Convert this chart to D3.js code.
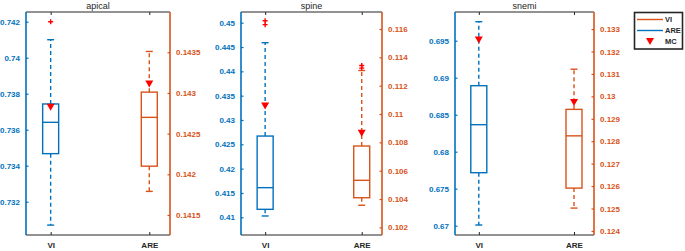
<!DOCTYPE html>
<html><head><meta charset="utf-8">
<script src="https://cdn.jsdelivr.net/npm/d3@7"></script>
<style>
body{margin:0;background:#fff;}
svg{display:block;font-family:"Liberation Sans",Arial,sans-serif;}
</style></head>
<body>
<svg id="c" width="685" height="251"></svg>
<script>
// ---------------- data ----------------
const categories = ["VI", "ARE"];
const panelTitles = ["apical", "spine", "snemi"];
// box stats: [lower whisker, Q1, median, Q3, upper whisker]
const apicalVI  = [0.7307, 0.73467, 0.73641, 0.73743, 0.7410];
const apicalARE = [0.14179, 0.14210, 0.14270, 0.14301, 0.14351];
const spineVI   = [0.41027, 0.41164, 0.41609, 0.42670, 0.44589];
const spineARE  = [0.10356, 0.10409, 0.10532, 0.10774, 0.11307];
const snemiVI   = [0.67009, 0.67716, 0.68365, 0.68892, 0.69757];
const snemiARE  = [0.12502, 0.12591, 0.12824, 0.12942, 0.13121];
// outliers
const apicalVIOut = [0.7420];
const apicalAREOut = [];
const spineVIOut = [0.4504, 0.4496];
const spineAREOut = [0.11342, 0.11324];
const snemiVIOut = [];
const snemiAREOut = [];
// MC markers [VI, ARE]
const apicalMC = [0.73725, 0.14311];
const spineMC  = [0.43288, 0.10864];
const snemiMC  = [0.6951, 0.12973];
// ticks
const apicalLeftTicks  = [0.732, 0.734, 0.736, 0.738, 0.74, 0.742];
const apicalRightTicks = [0.1415, 0.142, 0.1425, 0.143, 0.1435];
const spineLeftTicks   = [0.41, 0.415, 0.42, 0.425, 0.43, 0.435, 0.44, 0.445, 0.45];
const spineRightTicks  = [0.102, 0.104, 0.106, 0.108, 0.11, 0.112, 0.114, 0.116];
const snemiLeftTicks   = [0.67, 0.675, 0.68, 0.685, 0.69, 0.695];
const snemiRightTicks  = [0.124, 0.125, 0.126, 0.127, 0.128, 0.129, 0.13, 0.131, 0.132, 0.133];
// axis limits
const apicalLeftLim  = [0.73015, 0.74254];
const apicalRightLim = [0.141254, 0.143995];
const spineLeftLim   = [0.40636, 0.4522];
const spineRightLim  = [0.10146, 0.1172];
const snemiLeftLim   = [0.66874, 0.69888];
const snemiRightLim  = [0.12382, 0.13376];
const legendLabels = ["VI", "ARE", "MC"];

// ---------------- layout ----------------
const BLUE = "#0072BD", ORANGE = "#D95319", RED = "#FF0000", DARK = "#262626";
const plotTop = 12, plotBottom = 235;
const panels = [
  {title: panelTitles[0], x0: 26,  x1: 170, boxes: [apicalVI, apicalARE], outs: [apicalVIOut, apicalAREOut], mc: apicalMC,
   lt: apicalLeftTicks, rt: apicalRightTicks, ll: apicalLeftLim, rl: apicalRightLim},
  {title: panelTitles[1], x0: 241, x1: 382, boxes: [spineVI, spineARE], outs: [spineVIOut, spineAREOut], mc: spineMC,
   lt: spineLeftTicks, rt: spineRightTicks, ll: spineLeftLim, rl: spineRightLim},
  {title: panelTitles[2], x0: 455, x1: 594, boxes: [snemiVI, snemiARE], outs: [snemiVIOut, snemiAREOut], mc: snemiMC,
   lt: snemiLeftTicks, rt: snemiRightTicks, ll: snemiLeftLim, rl: snemiRightLim}
];

const svg = d3.select("#c");
const boxW = 16, capW = 7;

panels.forEach(p => {
  const g = svg.append("g");
  const x = d3.scaleLinear().domain([0.75, 2.21]).range([p.x0, p.x1]);
  const yL = d3.scaleLinear().domain(p.ll).range([plotBottom, plotTop]);
  const yR = d3.scaleLinear().domain(p.rl).range([plotBottom, plotTop]);
  const ys = [yL, yR];
  const cols = [BLUE, ORANGE];

  // top & bottom axes
  const xb = d3.axisBottom(x).tickValues([1, 2]).tickFormat((d, i) => categories[i]).tickSize(-3).tickPadding(7);
  const gb = g.append("g").attr("transform", `translate(0,${plotBottom})`).call(xb);
  gb.select(".domain").attr("stroke", DARK).attr("stroke-width", 1.2).attr("d", `M${p.x0},0H${p.x1}`);
  gb.selectAll(".tick line").attr("stroke", DARK);
  gb.selectAll("text").attr("fill", DARK).attr("font-size", 8).attr("font-weight", "bold")
    .attr("font-family", "Liberation Sans, Arial, sans-serif");
  const xt = d3.axisTop(x).tickValues([1, 2]).tickFormat("").tickSize(-3);
  const gt = g.append("g").attr("transform", `translate(0,${plotTop})`).call(xt);
  gt.select(".domain").attr("stroke", DARK).attr("stroke-width", 1.2).attr("d", `M${p.x0},0H${p.x1}`);
  gt.selectAll(".tick line").attr("stroke", DARK);

  // left axis
  const al = d3.axisLeft(yL).tickValues(p.lt).tickFormat(d => String(d)).tickSize(-2.5).tickPadding(6);
  const gl = g.append("g").attr("transform", `translate(${p.x0},0)`).call(al);
  gl.select(".domain").attr("stroke", BLUE).attr("stroke-width", 1.6).attr("d", `M0,${plotTop}V${plotBottom}`);
  gl.selectAll(".tick line").attr("stroke", BLUE).attr("stroke-width", 1.2);
  gl.selectAll("text").attr("fill", BLUE).attr("font-size", 8).attr("font-weight", "bold")
    .attr("font-family", "Liberation Sans, Arial, sans-serif");
  // right axis
  const ar = d3.axisRight(yR).tickValues(p.rt).tickFormat(d => String(d)).tickSize(-2.5).tickPadding(6);
  const gr = g.append("g").attr("transform", `translate(${p.x1},0)`).call(ar);
  gr.select(".domain").attr("stroke", ORANGE).attr("stroke-width", 1.6).attr("d", `M0,${plotTop}V${plotBottom}`);
  gr.selectAll(".tick line").attr("stroke", ORANGE).attr("stroke-width", 1.2);
  gr.selectAll("text").attr("fill", ORANGE).attr("font-size", 8).attr("font-weight", "bold")
    .attr("font-family", "Liberation Sans, Arial, sans-serif");

  // title
  g.append("text").attr("x", (p.x0 + p.x1) / 2).attr("y", 9).attr("text-anchor", "middle")
    .attr("font-size", 9).attr("fill", DARK).text(p.title);

  // boxes
  p.boxes.forEach((b, i) => {
    const y = ys[i], c = cols[i], cx = x(i + 1);
    const bg = g.append("g");
    bg.append("line").attr("x1", cx).attr("x2", cx).attr("y1", y(b[3])).attr("y2", y(b[4]))
      .attr("stroke", c).attr("stroke-width", 1.4).attr("stroke-dasharray", "4,3");
    bg.append("line").attr("x1", cx).attr("x2", cx).attr("y1", y(b[1])).attr("y2", y(b[0]))
      .attr("stroke", c).attr("stroke-width", 1.4).attr("stroke-dasharray", "4,3");
    [b[0], b[4]].forEach(v => bg.append("line").attr("x1", cx - capW / 2).attr("x2", cx + capW / 2)
      .attr("y1", y(v)).attr("y2", y(v)).attr("stroke", c).attr("stroke-width", 1.4));
    bg.append("rect").attr("x", cx - boxW / 2).attr("width", boxW).attr("y", y(b[3])).attr("height", y(b[1]) - y(b[3]))
      .attr("fill", "none").attr("stroke", c).attr("stroke-width", 1.4);
    bg.append("line").attr("x1", cx - boxW / 2).attr("x2", cx + boxW / 2).attr("y1", y(b[2])).attr("y2", y(b[2]))
      .attr("stroke", c).attr("stroke-width", 1.4);
    p.outs[i].forEach(v => {
      const oy = y(v);
      bg.append("path").attr("d", `M${cx - 2.5},${oy}H${cx + 2.5}M${cx},${oy - 2.5}V${oy + 2.5}`)
        .attr("stroke", RED).attr("stroke-width", 1.4).attr("fill", "none");
    });
    const my = y(p.mc[i]);
    bg.append("path").attr("d", `M${cx - 4},${my - 3.5}L${cx + 4},${my - 3.5}L${cx},${my + 3.5}Z`).attr("fill", RED);
  });
});

// legend
const lg = svg.append("g");
lg.append("rect").attr("x", 634.5).attr("y", 12.5).attr("width", 48).attr("height", 36.5)
  .attr("fill", "#fff").attr("stroke", DARK).attr("stroke-width", 1.6);
const legCols = [ORANGE, BLUE];
legendLabels.forEach((lab, i) => {
  const ly = 19.5 + i * 11;
  if (i < 2) {
    lg.append("line").attr("x1", 637).attr("x2", 663).attr("y1", ly).attr("y2", ly)
      .attr("stroke", legCols[i]).attr("stroke-width", 1.4);
  } else {
    lg.append("path").attr("d", `M${650 - 4},${ly - 3.5}L${650 + 4},${ly - 3.5}L${650},${ly + 3.5}Z`).attr("fill", RED);
  }
  lg.append("text").attr("x", 665).attr("y", ly + 2.8).attr("font-size", 7.5).attr("font-weight", "bold")
    .attr("fill", DARK).text(lab);
});
</script>
</body></html>
